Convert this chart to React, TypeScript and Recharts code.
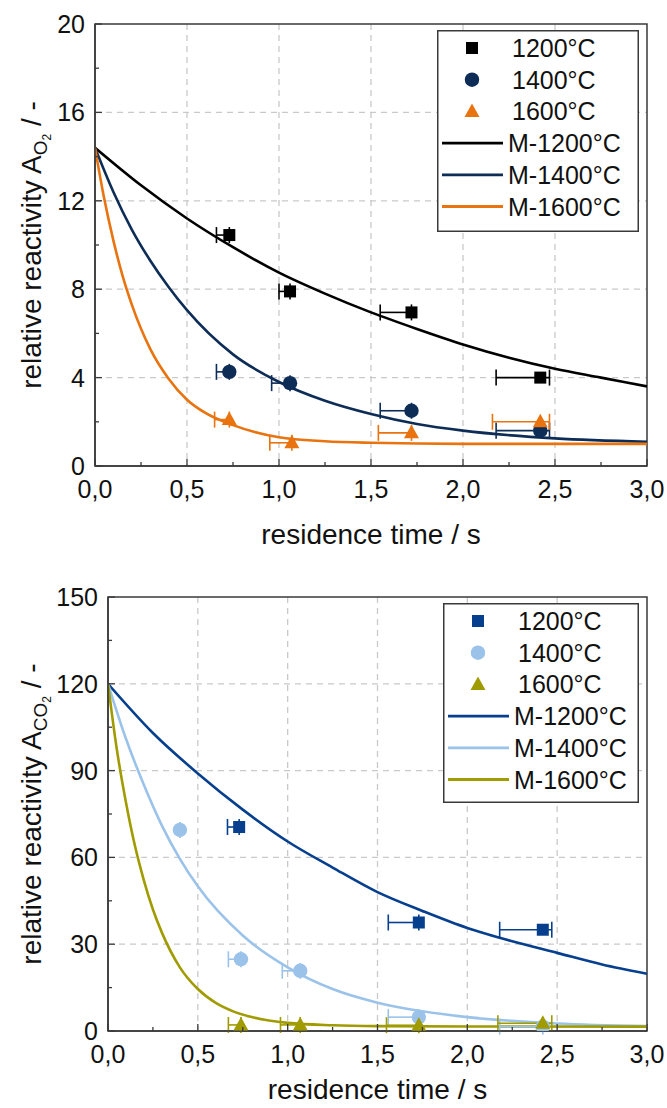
import React from 'react';
import {
  ComposedChart,
  Line,
  Scatter,
  XAxis,
  YAxis,
  CartesianGrid,
  ErrorBar,
  ReferenceArea,
  Legend,
} from 'recharts';

const FONT = '"Liberation Sans", Arial, Helvetica, sans-serif';
const AXIS = '#3a3a3a';
const GRID = '#c9c9c9';

// shared x axis
const xMajor = [0, 0.5, 1, 1.5, 2, 2.5, 3];
const xMinor = [0.25, 0.75, 1.25, 1.75, 2.25, 2.75];
const xGrid = [0.5, 1, 1.5, 2, 2.5];

// ---- top chart: O2 ----
const o2YMajor = [0, 4, 8, 12, 16, 20];
const o2YMinor = [2, 6, 10, 14, 18];
const o2YGrid = [4, 8, 12, 16];
const o2Colors = ['#000000', '#0d2d57', '#e8730f'];

const o2T1200 = [0.73, 1.06, 1.72, 2.42];
const o2A1200 = [10.45, 7.9, 6.95, 4.0];
const o2Lo1200 = [0.07, 0.06, 0.17, 0.24];
const o2Hi1200 = [0, 0, 0, 0.05];

const o2T1400 = [0.73, 1.06, 1.72, 2.42];
const o2A1400 = [4.26, 3.75, 2.5, 1.6];
const o2Lo1400 = [0.07, 0.1, 0.17, 0.24];
const o2Hi1400 = [0, 0, 0, 0.05];

const o2T1600 = [0.73, 1.07, 1.72, 2.42];
const o2A1600 = [2.1, 1.05, 1.5, 2.0];
const o2Lo1600 = [0.08, 0.12, 0.18, 0.26];
const o2Hi1600 = [0, 0, 0, 0.05];

const o2MT1200 = [0, 0.25, 0.5, 0.75, 1, 1.25, 1.5, 1.75, 2, 2.25, 2.5, 2.75, 3];
const o2MA1200 = [14.4, 12.7, 11.2, 9.9, 8.75, 7.8, 6.95, 6.2, 5.5, 4.9, 4.4, 4.0, 3.6];
const o2MT1400 = [0, 0.1, 0.2, 0.3, 0.4, 0.5, 0.75, 1, 1.25, 1.5, 1.75, 2, 2.5, 3];
const o2MA1400 = [14.4, 12.4, 10.7, 9.3, 8.1, 7.05, 5.05, 3.8, 2.95, 2.35, 1.9, 1.6, 1.25, 1.1];
const o2MT1600 = [0, 0.05, 0.1, 0.15, 0.2, 0.3, 0.4, 0.5, 0.6, 0.75, 1, 1.25, 1.5, 2, 3];
const o2MA1600 = [14.4, 12.1, 10.2, 8.6, 7.3, 5.3, 3.95, 3.0, 2.4, 1.85, 1.3, 1.12, 1.05, 1.0, 1.0];

// ---- bottom chart: CO2 ----
const co2YMajor = [0, 30, 60, 90, 120, 150];
const co2YMinor = [15, 45, 75, 105, 135];
const co2YGrid = [30, 60, 90, 120];
const co2Colors = ['#063f8d', '#9bc3ea', '#a09b00'];

const co2T1200 = [0.73, 1.73, 2.42];
const co2A1200 = [70.5, 37.5, 35.0];
const co2Lo1200 = [0.065, 0.17, 0.24];
const co2Hi1200 = [0, 0, 0.05];

const co2T1400 = [0.4, 0.74, 1.07, 1.73, 2.42];
const co2A1400 = [69.5, 24.8, 20.8, 4.8, 1.5];
const co2Lo1400 = [0, 0.07, 0.1, 0.17, 0.24];
const co2Hi1400 = [0, 0, 0, 0, 0];

const co2T1600 = [0.74, 1.07, 1.73, 2.42];
const co2A1600 = [2.1, 2.1, 2.0, 2.7];
const co2Lo1600 = [0.07, 0.11, 0.18, 0.25];
const co2Hi1600 = [0, 0, 0, 0.05];

const co2MT1200 = [0, 0.25, 0.5, 0.75, 1, 1.25, 1.5, 1.75, 2, 2.25, 2.5, 2.75, 3];
const co2MA1200 = [120, 103, 89, 76.5, 65.5, 56.5, 48, 41.5, 35.6, 31, 27, 23, 19.8];
const co2MT1400 = [0, 0.1, 0.2, 0.3, 0.4, 0.5, 0.75, 1, 1.25, 1.5, 1.75, 2, 2.5, 3];
const co2MA1400 = [120, 101, 85, 71, 59.5, 50, 33, 22, 14.5, 9.8, 6.8, 4.8, 2.6, 1.7];
const co2MT1600 = [0, 0.05, 0.1, 0.15, 0.2, 0.25, 0.3, 0.4, 0.5, 0.6, 0.7, 0.8, 1, 1.25, 1.5, 2, 3];
const co2MA1600 = [120, 97, 79, 64, 52, 42, 34, 22, 14.5, 9.7, 6.7, 4.8, 2.8, 2.0, 1.7, 1.55, 1.5];

const seriesNames = ['1200°C', '1400°C', '1600°C'];
const modelNames = ['M-1200°C', 'M-1400°C', 'M-1600°C'];

const points = (t: number[], a: number[], lo: number[], hi: number[]) =>
  t.map((v, i) => ({ t: v, a: a[i], ex: [lo[i], hi[i]] }));
const curve = (t: number[], a: number[]) => t.map((v, i) => ({ t: v, a: a[i] }));
const fmt = (v: number) => v.toFixed(1).replace('.', ',');

// marker shapes
const SquareMark = ({ cx, cy, fill }: any) => (
  <rect x={cx - 6} y={cy - 6} width={12} height={12} fill={fill} />
);
const CircleMark = ({ cx, cy, fill }: any) => <circle cx={cx} cy={cy} r={7.2} fill={fill} />;
const TriangleMark = ({ cx, cy, fill }: any) => (
  <polygon points={`${cx},${cy - 8} ${cx + 7.5},${cy + 5.5} ${cx - 7.5},${cy + 5.5}`} fill={fill} />
);
const shapes = [SquareMark, CircleMark, TriangleMark];

const XTick = ({ x, y, payload }: any) => {
  const major = xMajor.includes(payload.value);
  return (
    <g>
      <line x1={x} x2={x} y1={y} y2={y - (major ? 7 : 4)} stroke={AXIS} strokeWidth={1.3} />
      {major && (
        <text x={x} y={y + 32} textAnchor="middle" fontSize={25} fontFamily={FONT} fill="#111">
          {fmt(payload.value)}
        </text>
      )}
    </g>
  );
};

const makeYTick = (majors: number[]) => ({ x, y, payload }: any) => {
  const major = majors.includes(payload.value);
  return (
    <g>
      <line x1={x} x2={x + (major ? 7 : 4)} y1={y} y2={y} stroke={AXIS} strokeWidth={1.3} />
      {major && (
        <text x={x - 10} y={y + 9} textAnchor="end" fontSize={25} fontFamily={FONT} fill="#111">
          {payload.value}
        </text>
      )}
    </g>
  );
};

const YTitle = ({ viewBox, sub }: any) => {
  const cx = 41;
  const cy = viewBox.y + viewBox.height / 2;
  return (
    <text
      x={cx}
      y={cy}
      transform={`rotate(-90, ${cx}, ${cy})`}
      textAnchor="middle"
      fontSize={28}
      fontFamily={FONT}
      fill="#111"
    >
      relative reactivity A
      <tspan fontSize={19} dy={6}>{sub}</tspan>
      <tspan fontSize={12} dy={4}>2</tspan>
      <tspan dy={-10}> / -</tspan>
    </text>
  );
};

const XTitle = ({ viewBox, drop }: any) => (
  <text
    x={viewBox.x + viewBox.width / 2}
    y={viewBox.y + drop}
    textAnchor="middle"
    fontSize={28}
    fontFamily={FONT}
    fill="#111"
  >
    residence time / s
  </text>
);

const LegendBox = ({ colors, w, h }: any) => {
  const rowY = (i: number) => 18 + i * 31.7;
  return (
    <svg width={w} height={h} style={{ display: 'block' }}>
      <rect x={0.75} y={0.75} width={w - 1.5} height={h - 1.5} fill="#fff" stroke={AXIS} strokeWidth={1.5} />
      {seriesNames.map((name, i) => {
        const Shape = shapes[i];
        return (
          <g key={name}>
            <Shape cx={35} cy={rowY(i)} fill={colors[i]} />
            <text x={75} y={rowY(i) + 9} fontSize={25} fontFamily={FONT} fill="#111">
              {name}
            </text>
          </g>
        );
      })}
      {modelNames.map((name, i) => (
        <g key={name}>
          <line x1={5} x2={66} y1={rowY(i + 3)} y2={rowY(i + 3)} stroke={colors[i]} strokeWidth={2.8} />
          <text x={71} y={rowY(i + 3) + 9} fontSize={25} fontFamily={FONT} fill="#111">
            {name}
          </text>
        </g>
      ))}
    </svg>
  );
};

interface PanelProps {
  height: number;
  marginTop: number;
  yWidth: number;
  xHeight: number;
  titleDrop: number;
  yMax: number;
  yMajor: number[];
  yMinor: number[];
  yGrid: number[];
  sub: string;
  colors: string[];
  pts: { t: number; a: number; ex: number[] }[][];
  models: { t: number; a: number }[][];
  legend: { left: number; top: number; width: number; height: number };
}

const Panel: React.FC<PanelProps> = (p) => {
  const yTicks = [...p.yMajor, ...p.yMinor].sort((a, b) => a - b);
  const xTicks = [...xMajor, ...xMinor].sort((a, b) => a - b);
  const YTick = makeYTick(p.yMajor);
  return (
    <ComposedChart
      width={667}
      height={p.height}
      margin={{ top: p.marginTop, right: 20, bottom: 0, left: 0 }}
    >
      <CartesianGrid
        stroke={GRID}
        strokeDasharray="6 5"
        strokeWidth={1.3}
        verticalValues={xGrid}
        horizontalValues={p.yGrid}
      />
      <XAxis
        type="number"
        dataKey="t"
        domain={[0, 3]}
        ticks={xTicks}
        interval={0}
        allowDataOverflow
        height={p.xHeight}
        tickSize={0}
        tickMargin={0}
        tickLine={false}
        axisLine={{ stroke: AXIS, strokeWidth: 1.5 }}
        tick={(tp: any) => <XTick {...tp} />}
        label={<XTitle drop={p.titleDrop} />}
      />
      <YAxis
        type="number"
        dataKey="a"
        domain={[0, p.yMax]}
        ticks={yTicks}
        interval={0}
        allowDataOverflow
        width={p.yWidth}
        tickSize={0}
        tickMargin={0}
        tickLine={false}
        axisLine={{ stroke: AXIS, strokeWidth: 1.5 }}
        tick={(tp: any) => <YTick {...tp} />}
        label={<YTitle sub={p.sub} />}
      />
      <ReferenceArea x1={0} x2={3} y1={0} y2={p.yMax} fill="none" stroke={AXIS} strokeWidth={1.5} />
      {p.models.map((m, i) => (
        <Line
          key={`m${i}`}
          data={m}
          dataKey="a"
          type="monotone"
          stroke={p.colors[i]}
          strokeWidth={2.6}
          dot={false}
          isAnimationActive={false}
        />
      ))}
      {p.pts.map((d, i) => {
        const Shape = shapes[i];
        return (
          <Scatter
            key={`s${i}`}
            data={d}
            fill={p.colors[i]}
            shape={(sp: any) => <Shape cx={sp.cx} cy={sp.cy} fill={p.colors[i]} />}
            isAnimationActive={false}
          >
            <ErrorBar
              dataKey="ex"
              direction="x"
              width={8}
              stroke={p.colors[i]}
              strokeWidth={1.6}
              isAnimationActive={false}
            />
          </Scatter>
        );
      })}
      <Legend
        layout="vertical"
        align="center"
        verticalAlign="middle"
        wrapperStyle={{ ...p.legend, position: 'absolute' }}
        content={() => <LegendBox colors={p.colors} w={p.legend.width} h={p.legend.height} />}
      />
    </ComposedChart>
  );
};

export default function App() {
  return (
    <div style={{ position: 'absolute', left: 0, top: 0, width: 667, height: 1108, background: '#fff', overflow: 'hidden' }}>
      <div style={{ position: 'absolute', left: 0, top: 0 }}>
        <Panel
          height={560}
          marginTop={24}
          yWidth={95}
          xHeight={94}
          titleDrop={78}
          yMax={20}
          yMajor={o2YMajor}
          yMinor={o2YMinor}
          yGrid={o2YGrid}
          sub="O"
          colors={o2Colors}
          pts={[
            points(o2T1200, o2A1200, o2Lo1200, o2Hi1200),
            points(o2T1400, o2A1400, o2Lo1400, o2Hi1400),
            points(o2T1600, o2A1600, o2Lo1600, o2Hi1600),
          ]}
          models={[curve(o2MT1200, o2MA1200), curve(o2MT1400, o2MA1400), curve(o2MT1600, o2MA1600)]}
          legend={{ left: 437, top: 30, width: 202, height: 202 }}
        />
      </div>
      <div style={{ position: 'absolute', left: 0, top: 560 }}>
        <Panel
          height={548}
          marginTop={37}
          yWidth={108}
          xHeight={77}
          titleDrop={68}
          yMax={150}
          yMajor={co2YMajor}
          yMinor={co2YMinor}
          yGrid={co2YGrid}
          sub="CO"
          colors={co2Colors}
          pts={[
            points(co2T1200, co2A1200, co2Lo1200, co2Hi1200),
            points(co2T1400, co2A1400, co2Lo1400, co2Hi1400),
            points(co2T1600, co2A1600, co2Lo1600, co2Hi1600),
          ]}
          models={[curve(co2MT1200, co2MA1200), curve(co2MT1400, co2MA1400), curve(co2MT1600, co2MA1600)]}
          legend={{ left: 443, top: 43, width: 196, height: 200 }}
        />
      </div>
    </div>
  );
}
